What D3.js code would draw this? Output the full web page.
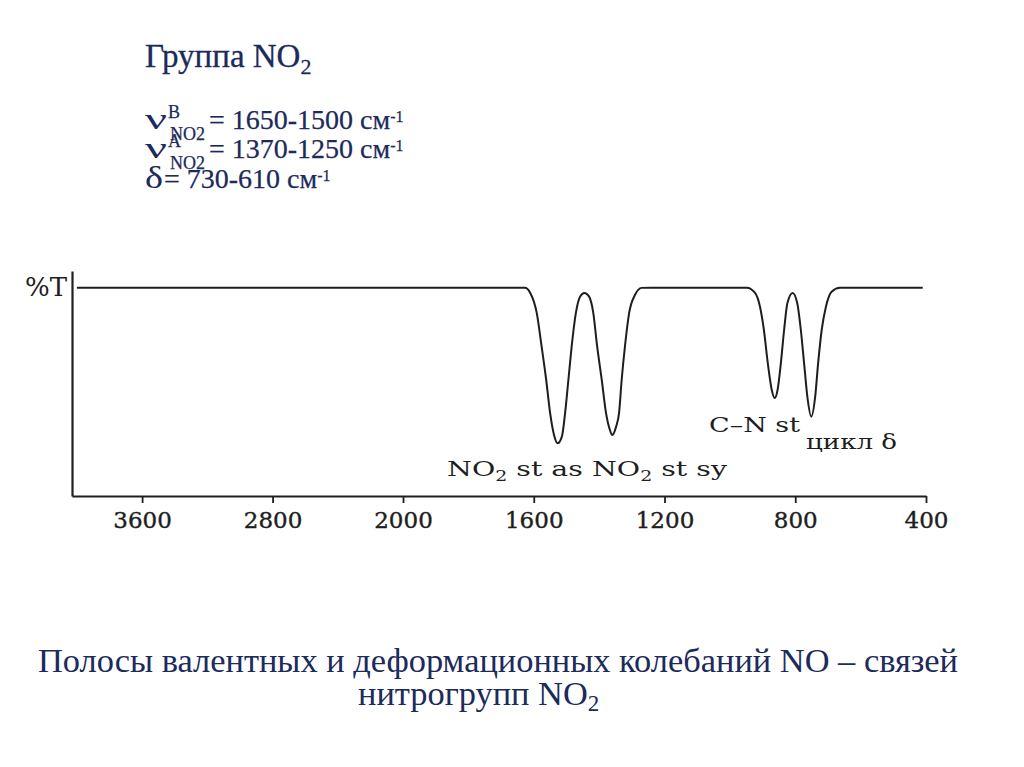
<!DOCTYPE html>
<html><head><meta charset="utf-8">
<script src="https://cdn.jsdelivr.net/npm/d3@7"></script>
<style>body{margin:0;background:#fff}svg{display:block}</style>
</head><body>
<svg id="c" width="1024" height="767"></svg>
<script>
// ---- data ----
const wavenumbers = [4000,1627,1611,1591,1576,1562,1550,1538,1527,1514,1504,1494,1484,1471,1458,1445,1431,1418,1406,1392,1379,1367,1360,1348,1339,1331,1321,1308,1290,1270,1244,
  948,923,908,896,884,872,863,854,844,834,824,808,794,783,773,763,751,739,730,719,706,688,663,410];
const transmittance = [100,100,97.6,88.0,71.8,55.8,39.9,29.3,25.3,28.5,39.9,55.8,71.8,88.0,95.8,97.5,95.8,88.0,71.8,55.8,39.9,31.7,29.3,33.3,39.9,55.8,71.8,88.0,96.6,99.9,100,
  100,97.5,91.0,79.8,63.8,51.0,47.0,51.0,63.8,79.8,92.6,97.5,92.6,79.8,63.8,47.7,38.1,47.7,63.8,79.8,91.0,98.2,100,100];
const xTicks = [3600,2800,2000,1600,1200,800,400];
const xBreaks = [4030,2000,400];   // axis is compressed above 2000 cm-1
const yMaxT = 108;
const formulas = [
  {greek:"ν", sup:"B", sub:"NO2", rest:"= 1650-1500 см"},
  {greek:"ν", sup:"A", sub:"NO2", rest:"= 1370-1250 см"},
  {greek:"δ", sup:null, sub:null, rest:"= 730-610 см"}
];

const svg = d3.select("#c");
svg.append("rect").attr("width",1024).attr("height",767).attr("fill","#fff");

const x = d3.scaleLinear().domain(xBreaks).range([72,403,926]);
const y = d3.scaleLinear().domain([0,yMaxT]).range([496,271]);

const ink = "#1e1e1e";
const navy = "#1c2a5c";

// axes
const gx = svg.append("g").attr("transform","translate(0,496)")
  .call(d3.axisBottom(x).tickValues(xTicks).tickSizeInner(7).tickSizeOuter(0).tickPadding(9).tickFormat(d3.format("d")));
gx.select(".domain").attr("stroke",ink).attr("stroke-width",2.2);
gx.selectAll(".tick line").attr("stroke",ink).attr("stroke-width",1.8);
gx.selectAll(".tick text").attr("font-family","DejaVu Serif").attr("font-size",23)
  .attr("fill",ink).attr("stroke",ink).attr("stroke-width",0.4);

const gy = svg.append("g").attr("transform","translate(72,0)")
  .call(d3.axisLeft(y).tickValues([]).tickSizeOuter(0));
gy.select(".domain").attr("stroke",ink).attr("stroke-width",2.2);

svg.append("text").attr("x",67).attr("y",296).attr("text-anchor","end")
  .attr("font-family","DejaVu Serif").attr("font-size",26).attr("fill",ink).text("%T");

// spectrum
const pts = wavenumbers.map((w,i)=>[w,transmittance[i]]);
svg.append("path").datum(pts)
  .attr("fill","none").attr("stroke",ink).attr("stroke-width",2)
  .attr("d", d3.line().x(d=>x(d[0])).y(d=>y(d[1])).curve(d3.curveMonotoneX));

// band labels (original artwork is horizontally stretched)
const lab = svg.append("text").attr("font-family","DejaVu Serif").attr("font-size",21).attr("fill",ink)
  .attr("x",447).attr("y",476).attr("textLength",280).attr("lengthAdjust","spacingAndGlyphs");
lab.append("tspan").text("NO");
lab.append("tspan").attr("font-size",14).attr("dy",5).text("2");
lab.append("tspan").attr("dy",-5).text(" st as  NO");
lab.append("tspan").attr("font-size",14).attr("dy",5).text("2");
lab.append("tspan").attr("dy",-5).text(" st sy");

svg.append("text").attr("font-family","DejaVu Serif").attr("font-size",21).attr("fill",ink)
  .attr("x",709).attr("y",432).attr("textLength",91).attr("lengthAdjust","spacingAndGlyphs").text("C–N st");
svg.append("text").attr("font-family","DejaVu Serif").attr("font-size",21).attr("fill",ink)
  .attr("x",806).attr("y",449).attr("textLength",91).attr("lengthAdjust","spacingAndGlyphs").text("цикл δ");

// header
const serif = "Liberation Serif";
const h1 = svg.append("text").attr("font-family",serif).attr("font-size",33).attr("fill",navy)
  .attr("stroke",navy).attr("stroke-width",0.3)
  .attr("x",145).attr("y",67);
h1.append("tspan").text("Группа NO");
h1.append("tspan").attr("font-size",22).attr("dy",7).text("2");

// formula block: one text element, positioned tspans
function measure(str, size){
  const t = svg.append("text").attr("font-family",serif).attr("font-size",size).text(str);
  const w = t.node().getComputedTextLength(); t.remove(); return w;
}
const block = svg.append("text").attr("font-family",serif).attr("fill",navy)
  .attr("stroke",navy).attr("stroke-width",0.25);
const baselines = [129,158,188];
formulas.forEach((f,i)=>{
  const yb = baselines[i];
  const gw = f.sup ? 22 : 18;
  block.append("tspan").attr("font-size",f.sup ? 30 : 32).attr("stroke-width",0).attr("x",145).attr("y",yb)
    .attr("textLength",gw).attr("lengthAdjust","spacingAndGlyphs").text(f.greek);
  let xx = 145 + gw;
  if (f.sup){
    block.append("tspan").attr("font-size",18).attr("x",xx+1).attr("y",yb-11).text(f.sup);
    block.append("tspan").attr("font-size",18).attr("x",xx+3).attr("y",yb+11).text(f.sub);
    xx += 3 + measure(f.sub,18) + 4;
  } else {
    xx += 1;
  }
  block.append("tspan").attr("font-size",28).attr("x",xx).attr("y",yb).text(f.rest);
  xx += measure(f.rest,28);
  block.append("tspan").attr("font-size",16).attr("x",xx).attr("y",yb-7).text("-1");
});

// caption
svg.append("text").attr("font-family",serif).attr("font-size",34.4).attr("fill",navy)
  .attr("x",498).attr("y",672).attr("text-anchor","middle")
  .text("Полосы валентных и деформационных колебаний NO – связей");
const c2 = svg.append("text").attr("font-family",serif).attr("font-size",34.4).attr("fill",navy)
  .attr("x",358).attr("y",705);
c2.append("tspan").text("нитрогрупп NO");
c2.append("tspan").attr("font-size",23).attr("dy",6).text("2");
</script>
</body></html>
